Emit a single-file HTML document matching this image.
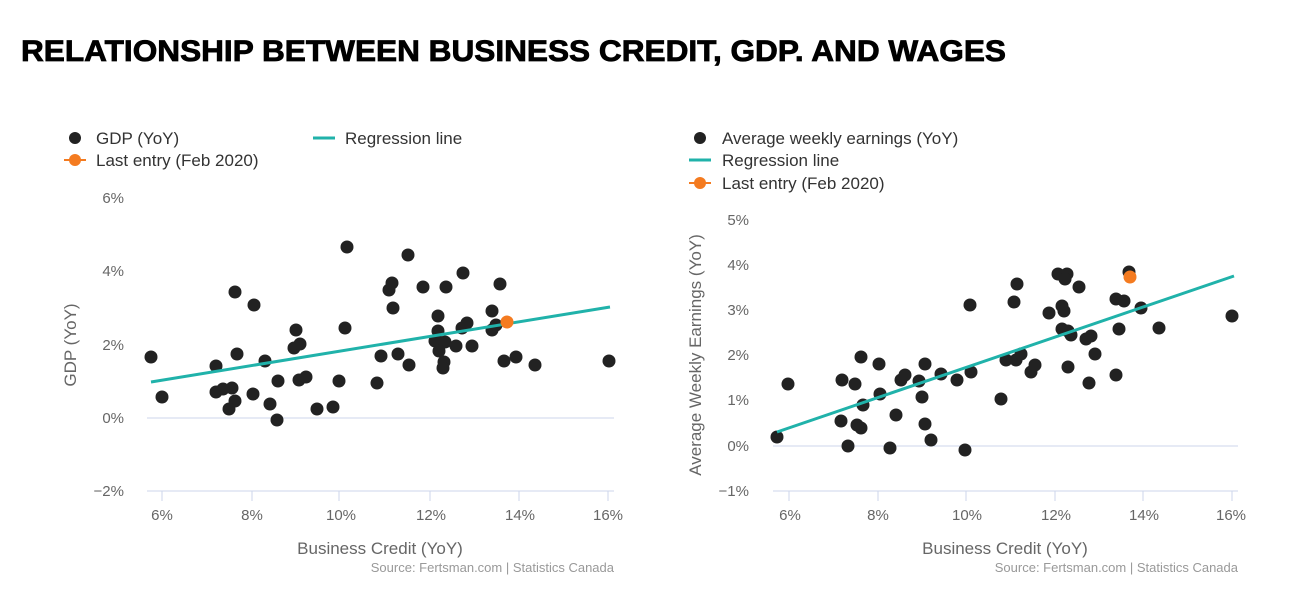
<!DOCTYPE html>
<html><head><meta charset="utf-8"><style>
body{margin:0;background:#fff;}
svg{display:block;font-family:"Liberation Sans",sans-serif;}
</style></head><body>
<svg width="1300" height="606" viewBox="0 0 1300 606">
<text x="21" y="61" font-size="30" font-weight="900" fill="#000" stroke="#000" stroke-width="0.8" textLength="985" lengthAdjust="spacingAndGlyphs">RELATIONSHIP BETWEEN BUSINESS CREDIT, GDP. AND WAGES</text>

<!-- LEFT legend -->
<circle cx="75" cy="138" r="6" fill="#222"/>
<text x="96" y="144" font-size="17" fill="#333">GDP (YoY)</text>
<line x1="313" y1="138" x2="335" y2="138" stroke="#20b2aa" stroke-width="3"/>
<text x="345" y="144" font-size="17" fill="#333">Regression line</text>
<line x1="64" y1="160" x2="86" y2="160" stroke="#f47b20" stroke-width="2"/>
<circle cx="75" cy="160" r="6" fill="#f47b20"/>
<text x="96" y="166" font-size="17" fill="#333">Last entry (Feb 2020)</text>

<!-- LEFT axes -->
<g font-size="15" fill="#666" text-anchor="end">
<text x="124" y="203">6%</text><text x="124" y="276">4%</text><text x="124" y="350">2%</text><text x="124" y="423">0%</text><text x="124" y="496">−2%</text>
</g>
<line x1="147" y1="418" x2="614" y2="418" stroke="#ccd6eb"/>
<line x1="147" y1="491" x2="614" y2="491" stroke="#ccd6eb"/>
<g stroke="#ccd6eb"><line x1="162" y1="491" x2="162" y2="501"/><line x1="252" y1="491" x2="252" y2="501"/><line x1="339" y1="491" x2="339" y2="501"/><line x1="430" y1="491" x2="430" y2="501"/><line x1="519" y1="491" x2="519" y2="501"/><line x1="608" y1="491" x2="608" y2="501"/></g>
<g font-size="15" fill="#666" text-anchor="middle">
<text x="162" y="520">6%</text><text x="252" y="520">8%</text><text x="341" y="520">10%</text><text x="431" y="520">12%</text><text x="520" y="520">14%</text><text x="608" y="520">16%</text>
</g>
<text x="380" y="554" font-size="17" fill="#666" text-anchor="middle">Business Credit (YoY)</text>
<text transform="translate(76,345) rotate(-90)" font-size="17" fill="#666" text-anchor="middle">GDP (YoY)</text>
<text x="614" y="572" font-size="13" fill="#999" text-anchor="end">Source: Fertsman.com | Statistics Canada</text>
<g fill="#222">
<circle cx="151" cy="357" r="6.5"/><circle cx="162" cy="397" r="6.5"/><circle cx="216" cy="366" r="6.5"/><circle cx="216" cy="392" r="6.5"/><circle cx="223" cy="389" r="6.5"/><circle cx="232" cy="388" r="6.5"/><circle cx="235" cy="401" r="6.5"/><circle cx="229" cy="409" r="6.5"/><circle cx="235" cy="292" r="6.5"/><circle cx="254" cy="305" r="6.5"/><circle cx="237" cy="354" r="6.5"/><circle cx="253" cy="394" r="6.5"/><circle cx="265" cy="361" r="6.5"/><circle cx="270" cy="404" r="6.5"/><circle cx="278" cy="381" r="6.5"/><circle cx="277" cy="420" r="6.5"/><circle cx="296" cy="330" r="6.5"/><circle cx="294" cy="348" r="6.5"/><circle cx="300" cy="344" r="6.5"/><circle cx="299" cy="380" r="6.5"/><circle cx="306" cy="377" r="6.5"/><circle cx="317" cy="409" r="6.5"/><circle cx="333" cy="407" r="6.5"/><circle cx="339" cy="381" r="6.5"/><circle cx="345" cy="328" r="6.5"/><circle cx="347" cy="247" r="6.5"/><circle cx="377" cy="383" r="6.5"/><circle cx="381" cy="356" r="6.5"/><circle cx="389" cy="290" r="6.5"/><circle cx="392" cy="283" r="6.5"/><circle cx="393" cy="308" r="6.5"/><circle cx="398" cy="354" r="6.5"/><circle cx="408" cy="255" r="6.5"/><circle cx="409" cy="365" r="6.5"/><circle cx="423" cy="287" r="6.5"/><circle cx="438" cy="316" r="6.5"/><circle cx="438" cy="331" r="6.5"/><circle cx="435" cy="341" r="6.5"/><circle cx="440" cy="343" r="6.5"/><circle cx="445" cy="342" r="6.5"/><circle cx="439" cy="351" r="6.5"/><circle cx="444" cy="362" r="6.5"/><circle cx="443" cy="368" r="6.5"/><circle cx="446" cy="287" r="6.5"/><circle cx="456" cy="346" r="6.5"/><circle cx="462" cy="328" r="6.5"/><circle cx="467" cy="323" r="6.5"/><circle cx="463" cy="273" r="6.5"/><circle cx="472" cy="346" r="6.5"/><circle cx="492" cy="311" r="6.5"/><circle cx="492" cy="330" r="6.5"/><circle cx="496" cy="325" r="6.5"/><circle cx="500" cy="284" r="6.5"/><circle cx="504" cy="361" r="6.5"/><circle cx="516" cy="357" r="6.5"/><circle cx="535" cy="365" r="6.5"/><circle cx="609" cy="361" r="6.5"/>
</g>
<line x1="151" y1="382" x2="610" y2="307" stroke="#20b2aa" stroke-width="3"/>
<circle cx="507" cy="322" r="6.5" fill="#f47b20"/>

<!-- RIGHT legend -->
<circle cx="700" cy="138" r="6" fill="#222"/>
<text x="722" y="144" font-size="17" fill="#333">Average weekly earnings (YoY)</text>
<line x1="689" y1="160" x2="711" y2="160" stroke="#20b2aa" stroke-width="3"/>
<text x="722" y="166" font-size="17" fill="#333">Regression line</text>
<line x1="689" y1="183" x2="711" y2="183" stroke="#f47b20" stroke-width="2"/>
<circle cx="700" cy="183" r="6" fill="#f47b20"/>
<text x="722" y="189" font-size="17" fill="#333">Last entry (Feb 2020)</text>

<g font-size="15" fill="#666" text-anchor="end">
<text x="749" y="225">5%</text><text x="749" y="270">4%</text><text x="749" y="315">3%</text><text x="749" y="360">2%</text><text x="749" y="405">1%</text><text x="749" y="451">0%</text><text x="749" y="496">−1%</text>
</g>
<line x1="773" y1="446" x2="1238" y2="446" stroke="#ccd6eb"/>
<line x1="773" y1="491" x2="1238" y2="491" stroke="#ccd6eb"/>
<g stroke="#ccd6eb"><line x1="789" y1="491" x2="789" y2="501"/><line x1="878" y1="491" x2="878" y2="501"/><line x1="966" y1="491" x2="966" y2="501"/><line x1="1055" y1="491" x2="1055" y2="501"/><line x1="1143" y1="491" x2="1143" y2="501"/><line x1="1232" y1="491" x2="1232" y2="501"/></g>
<g font-size="15" fill="#666" text-anchor="middle">
<text x="790" y="520">6%</text><text x="878" y="520">8%</text><text x="967" y="520">10%</text><text x="1056" y="520">12%</text><text x="1144" y="520">14%</text><text x="1231" y="520">16%</text>
</g>
<text x="1005" y="554" font-size="17" fill="#666" text-anchor="middle">Business Credit (YoY)</text>
<text transform="translate(701,355) rotate(-90)" font-size="17" fill="#666" text-anchor="middle">Average Weekly Earnings (YoY)</text>
<text x="1238" y="572" font-size="13" fill="#999" text-anchor="end">Source: Fertsman.com | Statistics Canada</text>
<g fill="#222">
<circle cx="777" cy="437" r="6.5"/><circle cx="788" cy="384" r="6.5"/><circle cx="842" cy="380" r="6.5"/><circle cx="855" cy="384" r="6.5"/><circle cx="841" cy="421" r="6.5"/><circle cx="848" cy="446" r="6.5"/><circle cx="857" cy="425" r="6.5"/><circle cx="861" cy="428" r="6.5"/><circle cx="863" cy="405" r="6.5"/><circle cx="861" cy="357" r="6.5"/><circle cx="879" cy="364" r="6.5"/><circle cx="880" cy="394" r="6.5"/><circle cx="890" cy="448" r="6.5"/><circle cx="896" cy="415" r="6.5"/><circle cx="901" cy="380" r="6.5"/><circle cx="905" cy="375" r="6.5"/><circle cx="919" cy="381" r="6.5"/><circle cx="922" cy="397" r="6.5"/><circle cx="925" cy="424" r="6.5"/><circle cx="925" cy="364" r="6.5"/><circle cx="931" cy="440" r="6.5"/><circle cx="941" cy="374" r="6.5"/><circle cx="957" cy="380" r="6.5"/><circle cx="965" cy="450" r="6.5"/><circle cx="970" cy="305" r="6.5"/><circle cx="971" cy="372" r="6.5"/><circle cx="1001" cy="399" r="6.5"/><circle cx="1006" cy="360" r="6.5"/><circle cx="1014" cy="302" r="6.5"/><circle cx="1017" cy="284" r="6.5"/><circle cx="1016" cy="360" r="6.5"/><circle cx="1021" cy="354" r="6.5"/><circle cx="1031" cy="372" r="6.5"/><circle cx="1035" cy="365" r="6.5"/><circle cx="1049" cy="313" r="6.5"/><circle cx="1058" cy="274" r="6.5"/><circle cx="1067" cy="274" r="6.5"/><circle cx="1065" cy="279" r="6.5"/><circle cx="1062" cy="306" r="6.5"/><circle cx="1064" cy="311" r="6.5"/><circle cx="1062" cy="329" r="6.5"/><circle cx="1068" cy="331" r="6.5"/><circle cx="1071" cy="335" r="6.5"/><circle cx="1068" cy="367" r="6.5"/><circle cx="1079" cy="287" r="6.5"/><circle cx="1086" cy="339" r="6.5"/><circle cx="1091" cy="336" r="6.5"/><circle cx="1089" cy="383" r="6.5"/><circle cx="1095" cy="354" r="6.5"/><circle cx="1116" cy="299" r="6.5"/><circle cx="1124" cy="301" r="6.5"/><circle cx="1119" cy="329" r="6.5"/><circle cx="1116" cy="375" r="6.5"/><circle cx="1129" cy="272" r="6.5"/><circle cx="1141" cy="308" r="6.5"/><circle cx="1159" cy="328" r="6.5"/><circle cx="1232" cy="316" r="6.5"/>
</g>
<line x1="777" y1="432" x2="1234" y2="276" stroke="#20b2aa" stroke-width="3"/>
<circle cx="1130" cy="277" r="6.5" fill="#f47b20"/>
</svg>
</body></html>
